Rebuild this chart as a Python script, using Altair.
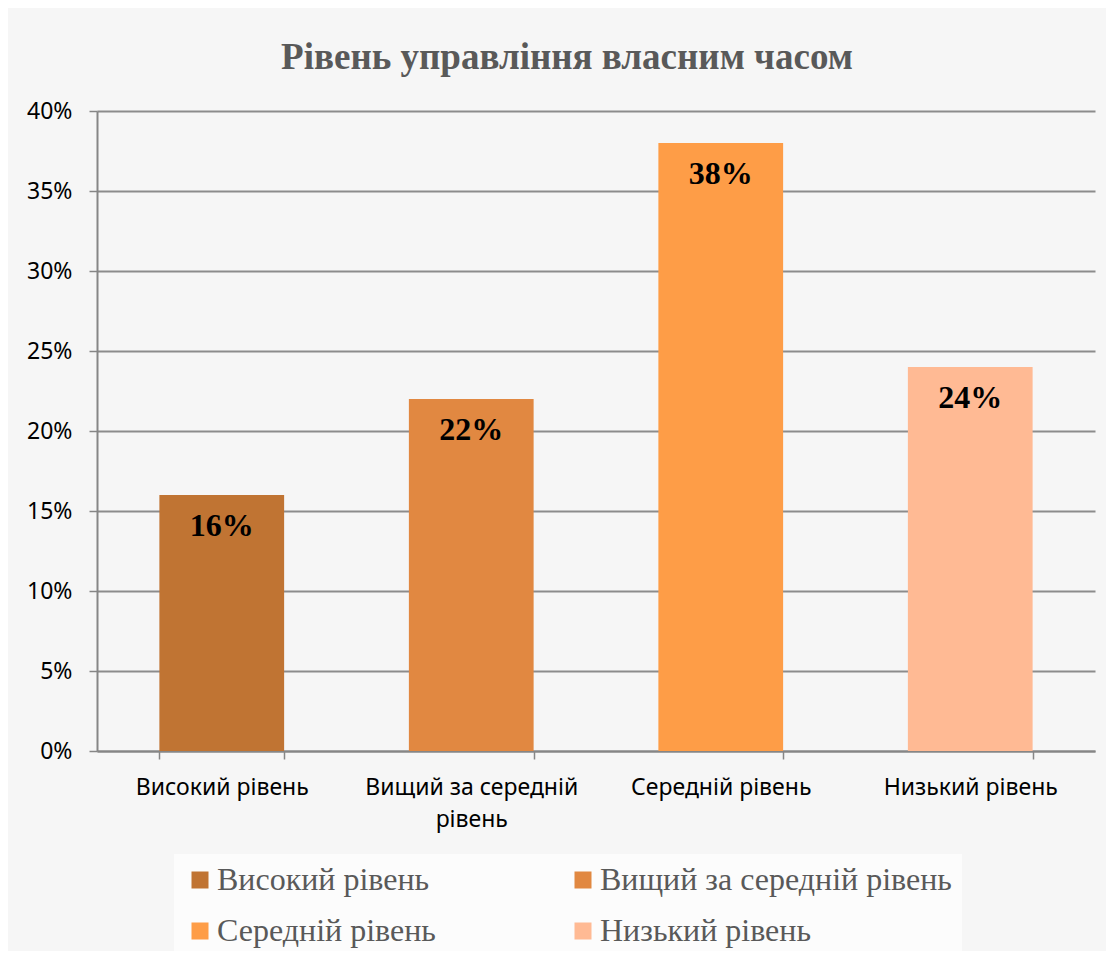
import altair as alt
import pandas as pd

categories = ["Високий рівень", "Вищий за середній рівень", "Середній рівень", "Низький рівень"]
values = [0.16, 0.22, 0.38, 0.24]
labels = ["16%", "22%", "38%", "24%"]
colors = ["#C07433", "#E18841", "#FE9D47", "#FFBA94"]

df = pd.DataFrame({"cat": categories, "val": values, "lab": labels})

x = alt.X("cat:N", sort=categories, title=None,
          scale=alt.Scale(paddingInner=0.5, paddingOuter=0.25),
          axis=alt.Axis(labelAngle=0, labelFont="Noto Sans", labelFontSize=23,
                        labelColor="#000000", labelPadding=17, tickBand="extent",
                        tickSize=8, tickColor="#868686", tickWidth=1.5,
                        domainColor="#868686", domainWidth=2, labelLimit=400,
                        labelExpr="datum.label == 'Вищий за середній рівень' ? ['Вищий за середній', 'рівень'] : datum.label",
                        labelLineHeight=32, labelBaseline="top"))

bars = alt.Chart(df).mark_bar().encode(
    x=x,
    y=alt.Y("val:Q", title=None,
            scale=alt.Scale(domain=[0, 0.4]),
            axis=alt.Axis(format=".0%", values=[0, 0.05, 0.1, 0.15, 0.2, 0.25, 0.3, 0.35, 0.4],
                          labelFont="Noto Sans", labelFontSize=23, labelColor="#000000",
                          tickSize=8, tickColor="#868686", tickWidth=1.5,
                          domainColor="#868686", domainWidth=2, labelPadding=17,
                          grid=True, gridColor="#8c8c8c", gridWidth=2)),
    color=alt.Color("cat:N", sort=categories,
                    scale=alt.Scale(domain=categories, range=colors),
                    legend=alt.Legend(title=None, orient="none", legendX=77, legendY=743,
                                      columns=2, direction="horizontal",
                                      columnPadding=131, rowPadding=19,
                                      symbolType="square", symbolSize=289, symbolStrokeWidth=0,
                                      labelFont="Liberation Serif", labelFontSize=32,
                                      labelColor="#595959", labelLimit=500, labelOffset=1,
                                      fillColor="#fcfcfc", padding=10))
)

text = alt.Chart(df).mark_text(baseline="top", dy=16, font="Liberation Serif",
                               fontSize=32, fontWeight="bold", color="#000000").encode(
    x=alt.X("cat:N", sort=categories),
    y=alt.Y("val:Q"),
    text="lab:N"
)

chart = (bars + text).properties(
    width=998, height=640,
    title=alt.TitleParams("Рівень управління власним часом", font="Liberation Serif",
                          fontSize=37, fontWeight="bold", color="#595959", offset=23,
                          dx=-29, anchor="middle"),
    background="#f6f6f6",
    autosize=alt.AutoSizeParams(type="none"),
    padding={"left": 89, "top": 103, "right": 11, "bottom": 200},
).configure_view(stroke=None).configure_axisY(domain=True)

chart.save("out.html", embed_options={"renderer": "svg", "actions": False})
